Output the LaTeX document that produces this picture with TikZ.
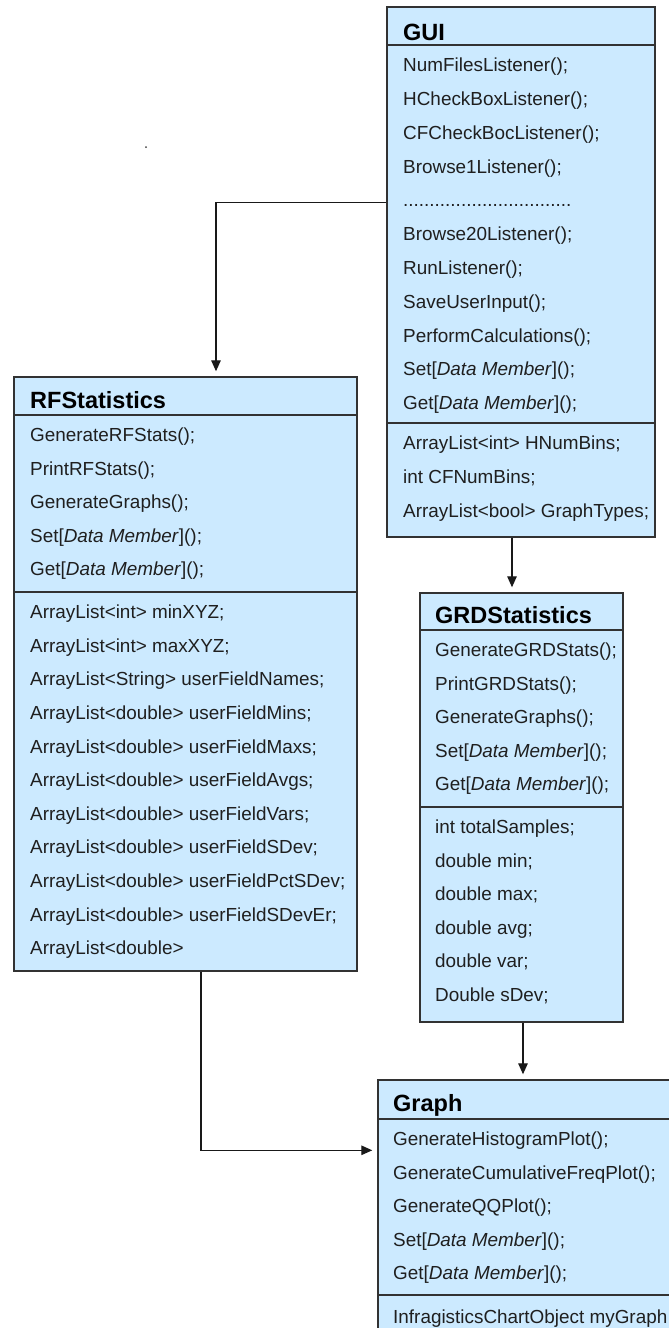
\documentclass[tikz,border=0pt]{standalone}
\usepackage{fontspec}
\setmainfont{Liberation Sans}
\usetikzlibrary{arrows.meta}
\definecolor{clsblue}{RGB}{204,234,255}
\definecolor{clsline}{RGB}{50,50,50}
\tikzset{
  clsbox/.style={draw=clsline, fill=clsblue, line width=1.4pt, rectangle, inner sep=0pt},
  sepline/.style={draw=clsline, line width=1.4pt},
  rowtext/.style={anchor=west, inner sep=0pt, text height=13.5pt, text depth=0pt,
    font=\fontsize{18.9pt}{22pt}\selectfont, text=black!88},
  titletext/.style={anchor=west, inner sep=0pt, text height=16.8pt, text depth=0pt,
    font=\fontsize{23.5pt}{28pt}\selectfont\bfseries, text=black},
  conn/.style={draw=black!90, line width=1.3pt, -{Triangle[length=11pt,width=9.5pt]}, shorten >=5pt},
}
\begin{document}
\begin{tikzpicture}[x=1pt,y=-1pt]
\useasboundingbox (0,0) rectangle (669,1328);

% boxes
\node[clsbox, minimum width=268pt, minimum height=530pt] (gui) at (521,272) {};
\node[clsbox, minimum width=343pt, minimum height=594pt] (rf) at (185.5,674) {};
\node[clsbox, minimum width=203pt, minimum height=429pt] (grd) at (521.5,807.5) {};
\node[clsbox, minimum width=342pt, minimum height=280pt] (graph) at (549,1220) {};

% separators
\draw[sepline] (gui.west |- 0,45) -- (gui.east |- 0,45);
\draw[sepline] (gui.west |- 0,423) -- (gui.east |- 0,423);
\draw[sepline] (rf.west |- 0,415) -- (rf.east |- 0,415);
\draw[sepline] (rf.west |- 0,592) -- (rf.east |- 0,592);
\draw[sepline] (grd.west |- 0,630) -- (grd.east |- 0,630);
\draw[sepline] (grd.west |- 0,807) -- (grd.east |- 0,807);
\draw[sepline] (graph.west |- 0,1119) -- (graph.east |- 0,1119);
\draw[sepline] (graph.west |- 0,1295) -- (graph.east |- 0,1295);

% titles
\node[titletext] (gui-t) at (403,32) {GUI};
\node[titletext] (rf-t) at (30,400) {RFStatistics};
\node[titletext] (grd-t) at (435,615) {GRDStatistics};
\node[titletext] (graph-t) at (393,1103) {Graph};

% GUI
\foreach \t [count=\i] in {
  {NumFilesListener();},
  {HCheckBoxListener();},
  {CFCheckBocListener();},
  {Browse1Listener();}}
  \node[rowtext] (gui-m\i) at (403,{65+(\i-1)*33.8}) {\t};
\node[rowtext] (gui-dots) at (403,200.2) {................................};
\foreach \t [count=\i] in {
  {Browse20Listener();},
  {RunListener();},
  {SaveUserInput();},
  {PerformCalculations();},
  {Set[\textit{Data Member}]();},
  {Get[\textit{Data Member}]();}}
  \node[rowtext] (gui-n\i) at (403,{234+(\i-1)*33.8}) {\t};
\foreach \t [count=\i] in {
  {ArrayList<int> HNumBins;},
  {int CFNumBins;},
  {ArrayList<bool> GraphTypes;}}
  \node[rowtext] (gui-a\i) at (403,{443+(\i-1)*33.8}) {\t};

% RFStatistics
\foreach \t [count=\i] in {
  {GenerateRFStats();},
  {PrintRFStats();},
  {GenerateGraphs();},
  {Set[\textit{Data Member}]();},
  {Get[\textit{Data Member}]();}}
  \node[rowtext] (rf-m\i) at (30,{435+(\i-1)*33.5}) {\t};
\foreach \t [count=\i] in {
  {ArrayList<int> minXYZ;},
  {ArrayList<int> maxXYZ;},
  {ArrayList<String> userFieldNames;},
  {ArrayList<double> userFieldMins;},
  {ArrayList<double> userFieldMaxs;},
  {ArrayList<double> userFieldAvgs;},
  {ArrayList<double> userFieldVars;},
  {ArrayList<double> userFieldSDev;},
  {ArrayList<double> userFieldPctSDev;},
  {ArrayList<double> userFieldSDevEr;},
  {ArrayList<double>}}
  \node[rowtext] (rf-a\i) at (30,{612+(\i-1)*33.6}) {\t};

% GRDStatistics
\foreach \t [count=\i] in {
  {GenerateGRDStats();},
  {PrintGRDStats();},
  {GenerateGraphs();},
  {Set[\textit{Data Member}]();},
  {Get[\textit{Data Member}]();}}
  \node[rowtext] (grd-m\i) at (435,{650+(\i-1)*33.5}) {\t};
\foreach \t [count=\i] in {
  {int totalSamples;},
  {double min;},
  {double max;},
  {double avg;},
  {double var;},
  {Double sDev;}}
  \node[rowtext] (grd-a\i) at (435,{827+(\i-1)*33.5}) {\t};

% Graph
\foreach \t [count=\i] in {
  {GenerateHistogramPlot();},
  {GenerateCumulativeFreqPlot();},
  {GenerateQQPlot();},
  {Set[\textit{Data Member}]();},
  {Get[\textit{Data Member}]();}}
  \node[rowtext] (graph-m\i) at (393,{1139+(\i-1)*33.5}) {\t};
\node[rowtext] (graph-a1) at (393,1317) {InfragisticsChartObject myGraph};

% connectors
\draw[conn] ([yshift=-196pt]gui.north west) -| ([xshift=30.5pt]rf.north);
\draw[conn] ([xshift=-9pt]gui.south) -- ([xshift=-9pt]gui.south |- grd.north);
\draw[conn] ([xshift=1.5pt]grd.south) -- ([xshift=1.5pt]grd.south |- graph.north);
\draw[conn] ([xshift=15.5pt]rf.south) |- ([yshift=-71pt]graph.north west);

% stray dot
\fill[black!75] (146,147) circle (1pt);
\end{tikzpicture}
\end{document}
